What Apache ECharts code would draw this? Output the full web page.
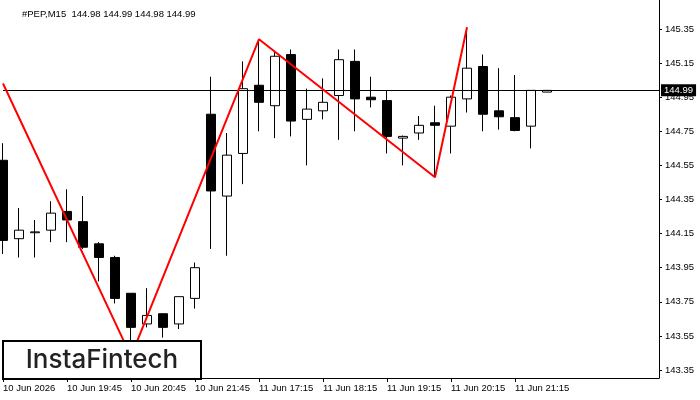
<!DOCTYPE html>
<html>
<head>
<meta charset="utf-8">
<script src="https://cdn.jsdelivr.net/npm/echarts@6/dist/echarts.min.js"></script>
<style>
  html, body { margin: 0; padding: 0; background: #fff; }
  #chart { width: 700px; height: 400px; }
</style>
</head>
<body>
<div id="chart"></div>
<script>
// bar times (M15)
const times = [
  '10 Jun 18:45', '10 Jun 19:00', '10 Jun 19:15', '10 Jun 19:30', '10 Jun 19:45', '10 Jun 20:00',
  '10 Jun 20:15', '10 Jun 20:30', '10 Jun 20:45', '10 Jun 21:00', '10 Jun 21:15', '10 Jun 21:30',
  '10 Jun 21:45', '10 Jun 22:00', '10 Jun 22:15', '10 Jun 22:30', '11 Jun 17:15', '11 Jun 17:30',
  '11 Jun 17:45', '11 Jun 18:00', '11 Jun 18:15', '11 Jun 18:30', '11 Jun 18:45', '11 Jun 19:00',
  '11 Jun 19:15', '11 Jun 19:30', '11 Jun 19:45', '11 Jun 20:00', '11 Jun 20:15', '11 Jun 20:30',
  '11 Jun 20:45', '11 Jun 21:00', '11 Jun 21:15', '11 Jun 21:30', '11 Jun 21:45'
];
// empty slots on the right of the last bar
const emptySlots = ['s1', 's2', 's3', 's4', 's5', 's6', 's7'];
const firstLabel = '10 Jun 2026';

const opens  = [144.58, 144.12, 144.155, 144.17, 144.28, 144.22, 144.09, 144.01, 143.80, 143.62, 143.68, 143.62, 143.77, 144.85, 144.37, 144.62, 145.02, 144.90, 145.20, 144.82, 144.87, 144.96, 145.16, 144.95, 144.93, 144.71, 144.74, 144.80, 144.78, 144.94, 145.13, 144.87, 144.83, 144.78, 144.98];
const highs  = [144.68, 144.30, 144.23, 144.34, 144.41, 144.37, 144.10, 144.02, 143.80, 143.83, 143.68, 143.78, 143.98, 145.07, 144.74, 145.16, 145.29, 145.22, 145.23, 145.00, 145.06, 145.23, 145.23, 145.07, 144.99, 144.725, 144.84, 144.90, 144.96, 145.36, 145.20, 145.12, 145.08, 144.99, 144.99];
const lows   = [144.03, 144.01, 144.01, 144.10, 144.10, 144.06, 143.87, 143.74, 143.43, 143.60, 143.54, 143.59, 143.71, 144.06, 144.02, 144.44, 144.75, 144.71, 144.72, 144.55, 144.82, 144.70, 144.75, 144.89, 144.62, 144.55, 144.70, 144.48, 144.62, 144.86, 144.75, 144.76, 144.75, 144.65, 144.98];
const closes = [144.11, 144.17, 144.16, 144.27, 144.23, 144.07, 144.01, 143.77, 143.60, 143.67, 143.60, 143.78, 143.95, 144.40, 144.61, 145.00, 144.92, 145.19, 144.81, 144.88, 144.92, 145.17, 144.94, 144.935, 144.72, 144.72, 144.785, 144.785, 144.95, 145.12, 144.85, 144.835, 144.755, 144.99, 144.99];

// pattern line: [bar index, price]
const pattern = [[0, 145.03], [8, 143.43], [16, 145.29], [27, 144.48], [29, 145.36]];

const yTicks = [143.35, 143.55, 143.75, 143.95, 144.15, 144.35, 144.55, 144.75, 144.95, 145.15, 145.35];
const lastPrice = 144.99;
const header = '#PEP,M15  144.98 144.99 144.98 144.99';

const cats = times.concat(emptySlots);
const candles = opens.map(function (o, i) {
  return [o, closes[i], lows[i], highs[i]];
});

var myChart = echarts.init(document.getElementById('chart'), null, { renderer: 'canvas' });

myChart.setOption({
  animation: false,
  backgroundColor: '#fff',
  title: {
    text: header,
    left: 17,
    top: 4,
    textStyle: { fontFamily: 'Liberation Sans', fontSize: 9.5, fontWeight: 'normal', color: '#000' }
  },
  grid: { left: 3, right: 41, top: 0, bottom: 22 },
  xAxis: {
    type: 'category',
    data: cats,
    boundaryGap: false,
    axisLine: { lineStyle: { color: '#000', width: 1 } },
    axisTick: {
      length: 4,
      lineStyle: { color: '#000' },
      interval: function (i) { return i % 4 === 0 && i < times.length; }
    },
    axisLabel: {
      interval: function (i) { return i % 4 === 0 && i < times.length; },
      formatter: function (v, i) { return i === 0 ? firstLabel : v; },
      align: 'left',
      margin: 5,
      fontFamily: 'Liberation Sans',
      fontSize: 9.5,
      color: '#000'
    },
    splitLine: { show: false }
  },
  yAxis: {
    type: 'value',
    position: 'right',
    min: 143.303,
    max: 145.520,
    scale: true,
    axisLine: { show: true, lineStyle: { color: '#000', width: 1 } },
    axisTick: { show: true, length: 3, customValues: yTicks, lineStyle: { color: '#000' } },
    axisLabel: {
      customValues: yTicks,
      formatter: function (v) { return v.toFixed(2); },
      margin: 6,
      fontFamily: 'Liberation Sans',
      fontSize: 9.5,
      color: '#000'
    },
    splitLine: { show: false }
  },
  series: [
    {
      type: 'candlestick',
      data: candles,
      barWidth: 9,
      clip: true,
      itemStyle: {
        color: '#fff',
        color0: '#000',
        borderColor: '#000',
        borderColor0: '#000',
        borderWidth: 1
      },
      markLine: {
        silent: true,
        symbol: ['none', 'none'],
        lineStyle: { color: '#000', width: 1, type: 'solid' },
        label: {
          position: 'end',
          distance: 2,
          formatter: lastPrice.toFixed(2),
          backgroundColor: '#000',
          color: '#fff',
          padding: [1, 3, 1, 3],
          fontFamily: 'Liberation Sans',
          fontSize: 9.5
        },
        data: [{ yAxis: lastPrice }]
      },
      z: 2
    },
    {
      type: 'line',
      data: pattern,
      symbol: 'none',
      lineStyle: { color: '#ff0000', width: 2 },
      z: 5
    }
  ],
  graphic: [
    {
      type: 'rect',
      z: 100,
      shape: { x: 3, y: 341, width: 198, height: 38 },
      style: { fill: '#fff', stroke: '#000', lineWidth: 2 }
    },
    {
      type: 'text',
      z: 101,
      x: 102,
      y: 360,
      style: {
        text: 'InstaFintech',
        fill: '#222',
        font: '500 26px Inter',
        textAlign: 'center',
        textVerticalAlign: 'middle'
      }
    }
  ]
});
</script>
</body>
</html>
